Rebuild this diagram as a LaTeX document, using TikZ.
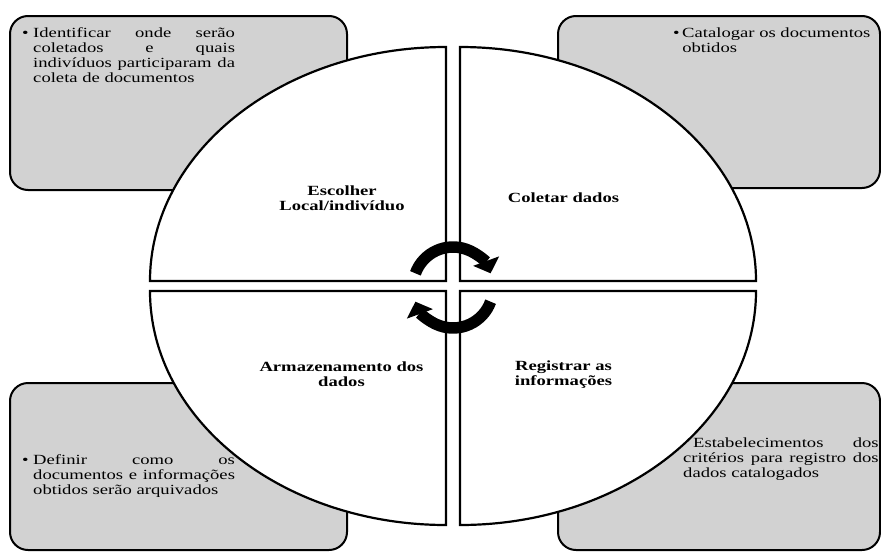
\documentclass[tikz,border=0pt]{standalone}
\usepackage{fontspec}
\setmainfont{Liberation Serif}
\usepackage{graphicx}
\usetikzlibrary{arrows.meta}

\definecolor{boxgray}{HTML}{D2D2D2}

% justified note text, stretched horizontally
\newcommand{\notepar}[2]{\scalebox{1.33}[1]{\parbox[t]{#1}{\tolerance=10000\hbadness=10000\hyphenpenalty=10000\exhyphenpenalty=10000 #2}}}
% centred bold step label
\newcommand{\steptext}[1]{\scalebox{1.33}[1]{\begin{tabular}[t]{@{}c@{}}#1\end{tabular}}}
\newcommand{\bul}[1]{\hangindent=#1\hangafter=1\noindent\makebox[#1][l]{•}}

\tikzset{
  notebox/.style={draw=black, line width=2pt, fill=boxgray, rounded corners=18pt, inner sep=0pt},
  quadrant/.style={draw=black, line width=2.2pt, fill=white, line join=miter},
  bodytext/.style={inner sep=0pt, anchor=base west, font=\fontsize{14}{15}\selectfont},
  steplabel/.style={inner sep=0pt, anchor=base, font=\bfseries\fontsize{14}{15}\selectfont},
  cyclearrow/.style={line width=11.5pt, -{Triangle[length=13pt,width=27pt]}}
}

\begin{document}
\begin{tikzpicture}[x=1pt, y=-1pt]
\useasboundingbox (0,0) rectangle (881,552);

% grey note boxes in the four corners
\node[notebox, minimum width=337pt, minimum height=174pt] (boxTL) at (178.5,103) {};
\node[notebox, minimum width=322pt, minimum height=172pt] (boxTR) at (719,102) {};
\node[notebox, minimum width=337pt, minimum height=167pt] (boxBL) at (178.5,466.5) {};
\node[notebox, minimum width=322pt, minimum height=167pt] (boxBR) at (719,466.5) {};

% note texts
\node[bodytext] (txtTL) at (22,37.5) {\notepar{160pt}{\bul{8.3pt}Identificar onde serão\linebreak coletados e quais\linebreak indivíduos participaram da\linebreak coleta de documentos}};
\node[bodytext] (txtTR) at (673,37.5) {\notepar{160pt}{\bul{6.8pt}Catalogar os documentos\newline obtidos}};
\node[bodytext] (txtBL) at (22,464) {\notepar{160pt}{\bul{8.3pt}Definir como os\linebreak documentos e informações\linebreak obtidos serão arquivados}};
\node[bodytext] (txtBR) at (683,447) {\notepar{147pt}{\noindent\hspace*{7.5pt}Estabelecimentos dos\linebreak critérios para registro dos\linebreak dados catalogados}};

% the four quarters of the cycle
\draw[quadrant] (446,281) -- (446,47) arc[start angle=270, end angle=180, x radius=296, y radius=234] -- cycle;
\draw[quadrant] (460,281) -- (460,47) arc[start angle=270, end angle=360, x radius=296, y radius=234] -- cycle;
\draw[quadrant] (446,291) -- (446,525) arc[start angle=90, end angle=180, x radius=296, y radius=234] -- cycle;
\draw[quadrant] (460,291) -- (460,525) arc[start angle=90, end angle=0, x radius=296, y radius=234] -- cycle;

% step labels
\node[steplabel] (stepTL) at (342,195.5) {\steptext{Escolher\\Local/indivíduo}};
\node[steplabel] (stepTR) at (563.5,202) {\steptext{Coletar dados}};
\node[steplabel] (stepBL) at (341.5,371) {\steptext{Armazenamento dos\\dados}};
\node[steplabel] (stepBR) at (563.5,370.5) {\steptext{Registrar as\\informações}};

% circular arrows in the middle
\coordinate (hubTop) at (453,287);
\coordinate (hubBottom) at (453,288);
\draw[cyclearrow] ([shift={(200:40)}]hubTop) arc[start angle=200, end angle=340, radius=40];
\draw[cyclearrow] ([shift={(20:40)}]hubBottom) arc[start angle=20, end angle=160, radius=40];
\end{tikzpicture}
\end{document}
